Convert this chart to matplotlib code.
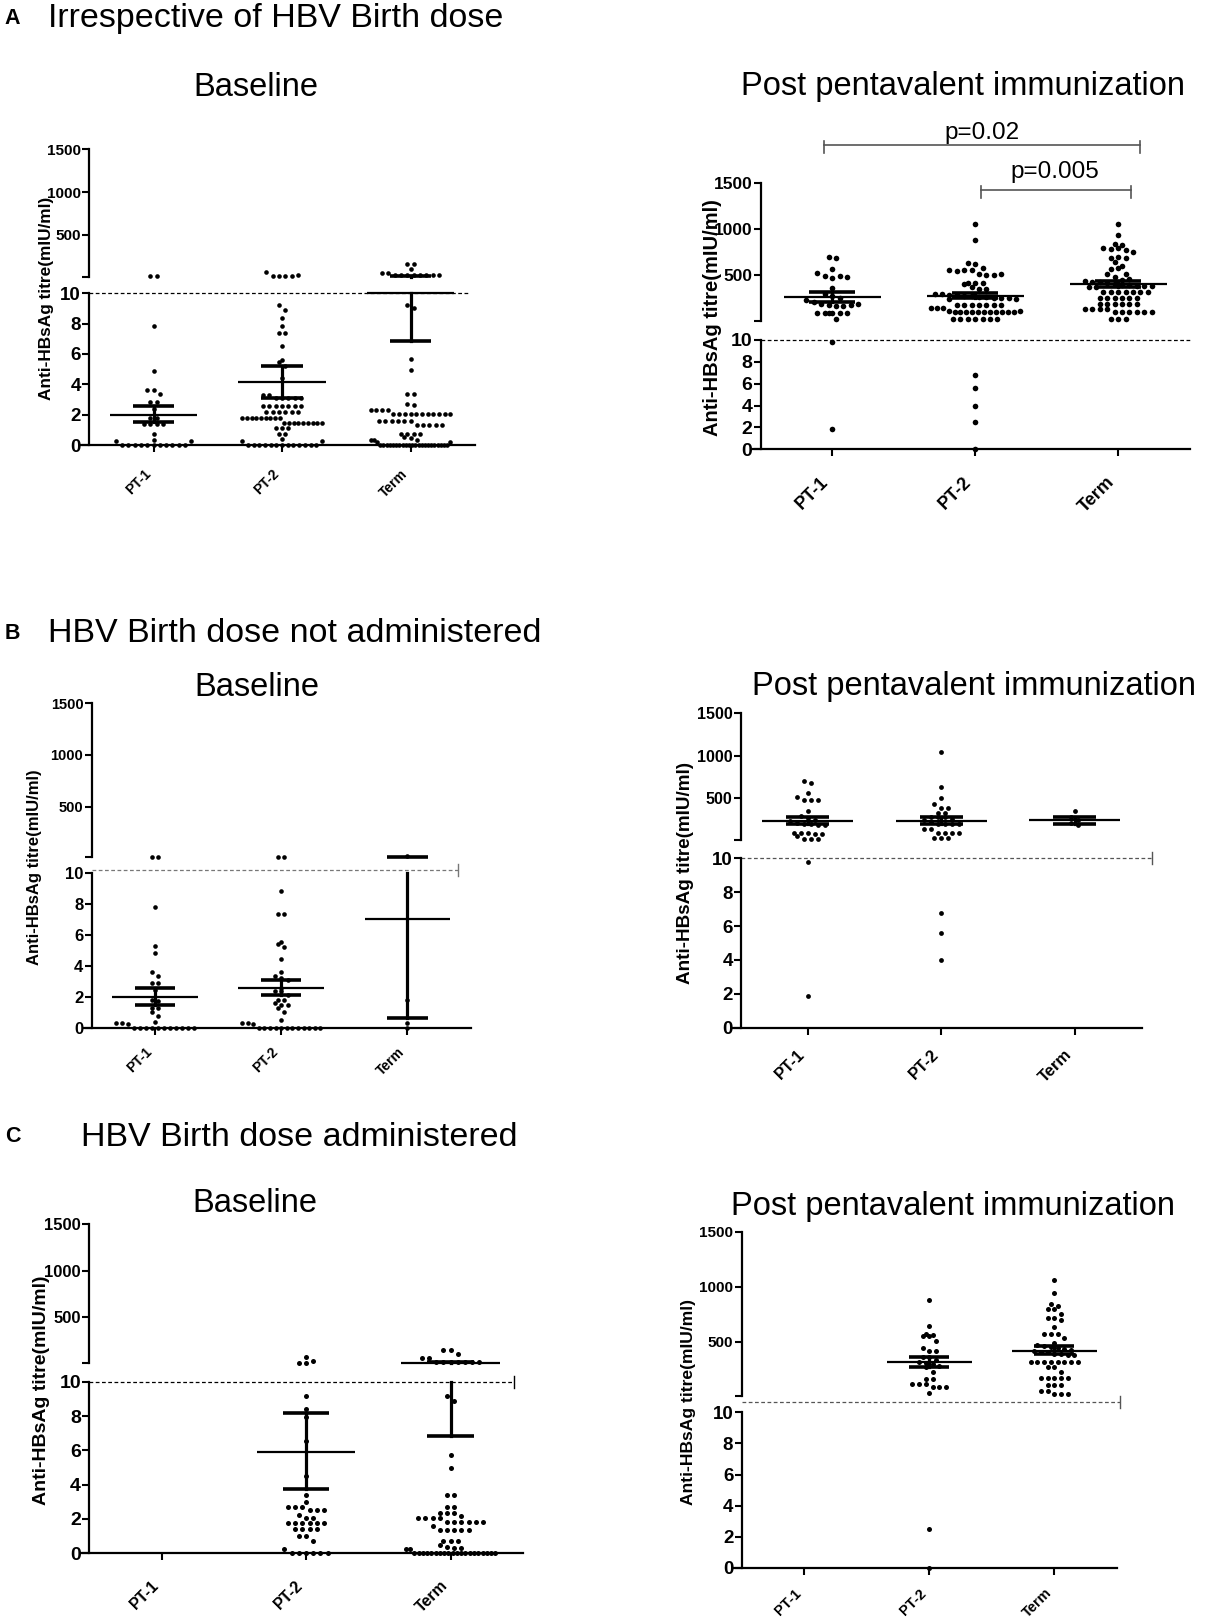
import numpy as np
import matplotlib
matplotlib.use("Agg")
import matplotlib.pyplot as plt
from matplotlib import transforms

plt.rcParams['font.family'] = ['Liberation Sans', 'DejaVu Sans']

groups = ["PT-1", "PT-2", "Term"]
ylab = "Anti-HBsAg titre(mIU/ml)"

# ---- A: irrespective of birth dose ----
A_base_pt1 = [18, 18, 7.85, 4.85, 3.65, 3.65, 3.35, 2.85, 2.85, 2.4, 1.75, 1.75,
              1.4, 1.4, 1.4, 1.4, 0.75, 0.35, 0.25] + [0] * 11 + [0.25]
A_base_pt2 = ([70, 20, 20, 20, 20, 35, 9.2, 8.9, 8.4, 7.85, 7.4, 7.4, 6.5, 5.6, 5.5,
               5.2, 4.4, 3.3, 3.3] + [3.1] * 5 + [2.6] * 7 + [2.2] * 6 + [1.75] * 9
              + [1.45] * 9 + [1.1] * 3 + [0.75] * 2 + [0.4, 0.25] + [0] * 13 + [0.25])
A_base_term = ([160, 160, 105, 50, 50] + [25] * 8 + [9.25, 9.0, 5.7, 4.95, 3.35, 3.35,
               2.7, 2.65] + [2.3] * 4 + [2.05] * 11 + [1.55] * 6 + [1.3] * 5
               + [0.75] * 4 + [0.5, 0.45, 0.35, 0.3, 0.3] + [0.2] + [0] * 22 + [0.2])
A_base_mean = [2.0, 4.17, 10.0]
A_base_lo = [1.5, 3.12, 6.85]
A_base_hi = [2.6, 5.2, 13.2]

A_post_pt1 = [700, 690, 565, 520, 490, 470, 490, 480, 366, 300, 280, 250, 230, 210,
              190, 175, 172, 170, 180, 185, 95, 90, 88, 90, 92, 98, 28, 9.8, 1.9]
A_post_pt2 = ([1051, 878, 636, 626, 576, 560, 548, 560, 555, 515, 505, 500, 510, 414,
               420, 410, 418, 377, 352, 352, 300, 295, 290, 285, 280, 275, 270, 265,
               260, 255, 250, 245, 240] + [180] * 7 + [144] * 3 + [110] + [100] * 11
              + [110] + [28] * 7 + [6.8, 5.6, 4.0, 2.5, 0])
A_post_term = ([1051, 935, 842, 830, 800, 780, 790, 770, 755, 690, 695, 690, 640, 600,
                570, 575, 510, 515, 485, 450, 455, 440, 430, 425, 420, 410, 400, 395,
                390, 385, 380, 375, 370] + [317] * 7 + [252] * 6 + [187] * 6
               + [140] * 4 + [100] * 6 + [28] * 3)
A_post_mean = [266, 280, 405]
A_post_lo = [215, 252, 375]
A_post_hi = [315, 310, 438]

# ---- B: birth dose not administered ----
B_base_pt1 = [15, 15, 7.84, 5.31, 4.82, 3.63, 3.35, 2.87, 2.87, 2.44, 1.8, 1.75, 1.3,
              1.25, 1.0, 0.76, 0.4, 0.28, 0.28, 0.24] + [0] * 11
B_base_pt2 = ([15, 15, 8.88, 7.36, 7.36, 5.57, 5.42, 5.2, 4.43, 3.63, 3.37, 3.2, 3.1,
               2.55, 2.38, 2.38, 2.1, 1.8, 1.8, 1.58, 1.47, 1.47, 1.25, 1.03, 0.5,
               0.28, 0.28, 0.24] + [0] * 12)
B_base_term = [19.5, 1.8, 0.3, 0]
B_base_mean = [2.0, 2.6, 7.07]
B_base_lo = [1.5, 2.15, 0.65]
B_base_hi = [2.6, 3.1, 14]

B_post_pt1 = [704, 684, 559, 520, 480, 480, 480, 355, 290, 270, 250, 230, 210, 198,
              195, 190, 188, 90, 88, 88, 80, 80, 61, 20, 18, 18, 9.8, 1.9]
B_post_pt2 = [1049, 637, 508, 433, 390, 390, 332, 332, 285, 285, 285, 260, 240, 220,
              198, 198, 198, 198, 139, 139, 90, 88, 88, 88, 30, 30, 30, 6.8, 5.6, 4.0]
B_post_term = [350, 280, 250, 215, 190]
B_post_mean = [237, 237, 245]
B_post_lo = [194, 198, 198]
B_post_hi = [285, 285, 285]

# ---- C: birth dose administered ----
C_base_pt1 = []
C_base_pt2 = ([78, 14, 14, 35, 9.17, 8.39, 7.96, 6.56, 4.5, 3.4, 3.0, 2.68, 2.68, 2.68,
               2.52, 2.52, 2.52, 2.23, 2.08, 2.08] + [1.75] * 6 + [1.4] * 4
              + [1.0, 1.0, 0.74, 0.23] + [0] * 6)
C_base_term = ([150, 150, 107, 60, 60] + [24] * 7 + [9.17, 8.9, 5.73, 4.95, 3.4, 3.4,
               2.68, 2.68, 2.37, 2.37, 2.37, 2.17] + [2.04] * 4 + [1.84] * 6 + [1.6]
               + [1.36] * 5 + [0.74] * 3 + [0.5, 0.35, 0.3, 0.3, 0.25, 0.23] + [0] * 20)
C_base_mean = [None, 5.92, 15]
C_base_lo = [None, 3.73, 6.85]
C_base_hi = [None, 8.16, 22]

C_post_pt1 = []
C_post_pt2 = [882, 646, 568, 560, 555, 555, 513, 443, 416, 416, 366, 360, 340, 321,
              310, 300, 285, 276, 231, 164, 164, 116, 116, 116, 89, 89, 89, 40, 2.5, 0]
C_post_term = ([1060, 945, 848, 827, 800, 800, 755, 718, 718, 700, 638, 572, 572, 572,
                534, 488, 470, 460, 455, 445, 440, 430, 420, 410, 405, 395, 390, 385,
                380] + [321] * 8 + [276, 276, 231] + [170] * 5 + [110] * 3
               + [55, 55, 30, 30, 30])
C_post_mean = [None, 321, 421]
C_post_lo = [None, 276, 390]
C_post_hi = [None, 366, 463]

W, H = 1207, 1620
fig = plt.figure(figsize=(W / 100, H / 100), dpi=100)


def add_axes_px(x0, x1, top, bottom):
    return fig.add_axes([x0 / W, 1 - bottom / H, (x1 - x0) / W, (bottom - top) / H])


def swarm_x(ax, vals, xc, step_px, diam_px, maxw_px):
    t = ax.transData
    ys = t.transform(np.column_stack([np.full(len(vals), xc), vals]))[:, 1]
    ppu = t.transform((1, 0))[0] - t.transform((0, 0))[0]
    rows = []
    for i in np.argsort(ys, kind="stable"):
        if rows and ys[i] - ys[rows[-1][0]] < diam_px:
            rows[-1].append(i)
        else:
            rows.append([i])
    xs = np.empty(len(vals))
    for row in rows:
        row = sorted(row)
        n = len(row)
        st = step_px if (n - 1) * step_px <= maxw_px else maxw_px / (n - 1)
        for k, idx in enumerate(row):
            xs[idx] = xc + (k - (n - 1) / 2) * st / ppu
    return xs


panels = [
    dict(data=(A_base_pt1, A_base_pt2, A_base_term), mean=A_base_mean, lo=A_base_lo,
         hi=A_base_hi, yx=89.3, sp=128.5, up=(149.3, 276.7), low=(293.3, 445),
         dot=4.6, step=6.3, fs_up=11, fs_lo=13.5, fs_x=10, xpad=15,
         title=("Baseline", 256, 87), ylab=(46.7, 298, 12.4),
         dash=(3.45, 10, 'black', False)),
    dict(data=(A_post_pt1, A_post_pt2, A_post_term), mean=A_post_mean, lo=A_post_lo,
         hi=A_post_hi, yx=760.7, sp=143, up=(182.7, 320.7), low=(340, 449.3),
         dot=5.6, step=7.4, fs_up=12.5, fs_lo=14, fs_x=13, xpad=17,
         title=("Post pentavalent immunization", 963, 87), ylab=(713, 318, 14.5),
         dash=(3.5, 10, 'black', False)),
    dict(data=(B_base_pt1, B_base_pt2, B_base_term), mean=B_base_mean, lo=B_base_lo,
         hi=B_base_hi, yx=91.7, sp=126.3, up=(703.3, 857.3), low=(873.3, 1027.7),
         dot=4.6, step=6.6, fs_up=10.5, fs_lo=12, fs_x=10, xpad=10,
         title=("Baseline", 257, 687), ylab=(35, 867, 12),
         dash=(3.4, 10.2, '#777777', True)),
    dict(data=(B_post_pt1, B_post_pt2, B_post_term), mean=B_post_mean, lo=B_post_lo,
         hi=B_post_hi, yx=741, sp=133.5, up=(713.3, 840), low=(858.3, 1027.7),
         dot=4.8, step=7.0, fs_up=11.5, fs_lo=13.5, fs_x=12, xpad=12,
         title=("Post pentavalent immunization", 974, 687), ylab=(685, 873, 13.6),
         dash=(3.58, 10, '#555555', True)),
    dict(data=(C_base_pt1, C_base_pt2, C_base_term), mean=C_base_mean, lo=C_base_lo,
         hi=C_base_hi, yx=89.3, sp=144.5, up=(1224.3, 1363), low=(1381.7, 1553.3),
         dot=5.0, step=7.2, fs_up=12, fs_lo=14, fs_x=11.5, xpad=17,
         title=("Baseline", 255, 1204), ylab=(41.7, 1390, 14),
         dash=(3.44, 10, 'black', True)),
    dict(data=(C_post_pt1, C_post_pt2, C_post_term), mean=C_post_mean, lo=C_post_lo,
         hi=C_post_hi, yx=741.7, sp=125, up=(1231.7, 1396), low=(1412.3, 1568),
         dot=5.0, step=6.7, fs_up=11, fs_lo=13.5, fs_x=10.5, xpad=11,
         title=("Post pentavalent immunization", 953, 1206), ylab=(688.3, 1402, 12.6),
         dash=(3.53, 10.66, '#555555', True)),
]

axes_up = []
for p in panels:
    x0 = p['yx']
    x1 = x0 + 3 * p['sp']
    ax_up = add_axes_px(x0, x1, *p['up'])
    ax_lo = add_axes_px(x0, x1, *p['low'])
    axes_up.append(ax_up)
    for ax in (ax_up, ax_lo):
        ax.set_xlim(0.5, 3.5)
        ax.patch.set_visible(False)
        ax.spines['top'].set_visible(False)
        ax.spines['right'].set_visible(False)
        ax.spines['left'].set_linewidth(1.6)
        ax.tick_params(axis='y', direction='out', length=5, width=1.5, pad=1)
    ax_up.set_ylim(10, 1500)
    ax_up.spines['bottom'].set_visible(False)
    ax_up.set_xticks([])
    ax_up.set_yticks([10, 500, 1000, 1500])
    ax_up.set_yticklabels(["", "500", "1000", "1500"], fontsize=p['fs_up'],
                          fontweight='bold')
    ax_lo.set_ylim(0, 10)
    ax_lo.set_yticks(range(0, 11, 2))
    ax_lo.set_yticklabels([str(v) for v in range(0, 11, 2)], fontsize=p['fs_lo'],
                          fontweight='bold')
    ax_lo.spines['bottom'].set_linewidth(1.6)
    ax_lo.spines['bottom'].set_bounds(0.5 - 8 / p['sp'], 3.5)
    ax_lo.set_xticks([1, 2, 3])
    ax_lo.set_xticklabels(groups, rotation=45, ha='right', fontsize=p['fs_x'],
                          fontweight='bold')
    ax_lo.tick_params(axis='x', length=5, width=1.5, pad=p['xpad'] * 0.72)

    # threshold line at 10
    dend, dy, dcol, caps = p['dash']
    ax_lo.plot([0.5, dend], [dy, dy], ls=(0, (3, 2)), lw=0.9, color=dcol,
               clip_on=False, zorder=1)
    if caps:
        hpx = (p['low'][1] - p['low'][0]) / 10
        ax_lo.plot([dend, dend], [dy - 6 / hpx, dy + 6 / hpx], lw=1.0, color=dcol,
                   clip_on=False)

    s = (p['dot'] * 0.72) ** 2
    for gi, vals in enumerate(p['data']):
        vals = np.asarray(vals, float)
        if len(vals) == 0:
            continue
        for ax, sel in ((ax_lo, vals <= 10), (ax_up, vals > 10)):
            v = vals[sel]
            if len(v) == 0:
                continue
            xs = swarm_x(ax, v, gi + 1, p['step'], p['dot'], 0.62 * p['sp'])
            ax.scatter(xs, v, s=s, color='black', linewidths=0, clip_on=False,
                       zorder=3)

    for gi in range(3):
        m, lo, hi = p['mean'][gi], p['lo'][gi], p['hi'][gi]
        if m is None:
            continue
        xc = gi + 1
        axm = ax_lo if m <= 10 else ax_up
        axm.plot([xc - 0.34, xc + 0.34], [m, m], lw=1.6, color='black',
                 clip_on=False, zorder=4, solid_capstyle='butt')
        for v in (lo, hi):
            axv = ax_lo if v <= 10 else ax_up
            axv.plot([xc - 0.16, xc + 0.16], [v, v], lw=2.6, color='black',
                     clip_on=False, zorder=4, solid_capstyle='butt')
        if lo < 10:
            ax_lo.plot([xc, xc], [lo, min(hi, 10)], lw=2.3, color='black',
                       clip_on=False, zorder=4)
        if hi > 10:
            ax_up.plot([xc, xc], [max(lo, 10), hi], lw=2.3, color='black',
                       clip_on=False, zorder=4)

    t, tx, ty = p['title']
    fig.text(tx / W, 1 - ty / H, t, ha='center', va='center', fontsize=23.5)
    lx, ly, lfs = p['ylab']
    fig.text(lx / W, 1 - ly / H, ylab, rotation=90, ha='center', va='center',
             fontsize=lfs, fontweight='bold')

# significance brackets on A post panel
ax = axes_up[1]
tr = transforms.blended_transform_factory(ax.transData, fig.transFigure)
for xa, xb, yb, label, tx, ty in [(0.94, 3.15, 145, "p=0.02", 2.05, 133),
                                  (2.04, 3.09, 190, "p=0.005", 2.56, 172)]:
    y = 1 - yb / H
    ax.plot([xa, xb], [y, y], color='#555555', lw=1.2, transform=tr, clip_on=False)
    for xe in (xa, xb):
        ax.plot([xe, xe], [y + 4 / H, y - 8 / H], color='#555555', lw=1.2,
                transform=tr, clip_on=False)
    ax.text(tx, 1 - ty / H, label, transform=tr, ha='center', va='center',
            fontsize=17.5)

# section headings
for letter, ly, head, hx in [("A", 18, "Irrespective of HBV Birth dose", 47.6),
                             ("B", 634, "HBV Birth dose not administered", 47.6),
                             ("C", 1137, "HBV Birth dose administered", 80.7)]:
    fig.text(12.4 / W, 1 - ly / H, letter, ha='center', va='center', fontsize=15.5,
             fontweight='bold')
    fig.text(hx / W, 1 - ly / H, head, ha='left', va='center', fontsize=24.5)

fig.savefig("out.png", dpi=100)
